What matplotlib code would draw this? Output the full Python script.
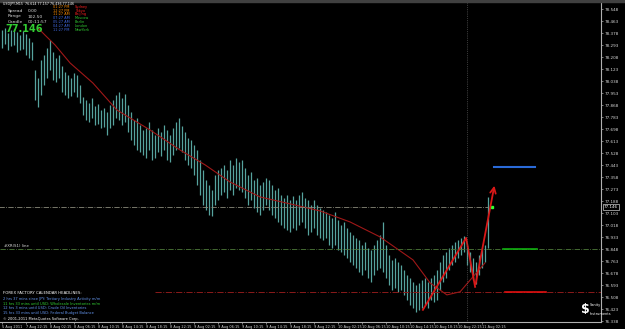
import matplotlib
matplotlib.use('Agg')
import matplotlib.pyplot as plt
import numpy as np

# USDJPY M15 bars (every second bar)
highs = [78.400, 78.414, 78.378, 78.400, 78.407, 78.385, 78.364, 78.392, 78.371, 78.343,
         78.315, 78.116, 78.060, 78.187, 78.223, 78.272, 78.329, 78.244, 78.201, 78.223,
         78.145, 78.102, 78.081, 78.060, 78.095, 78.081, 78.010, 77.925, 77.904, 77.883,
         77.918, 77.862, 77.876, 77.833, 77.847, 77.819, 77.869, 77.904, 77.939, 77.961,
         77.918, 77.946, 77.869, 77.819, 77.762, 77.777, 77.727, 77.692, 77.706, 77.748,
         77.692, 77.656, 77.706, 77.677, 77.727, 77.692, 77.656, 77.706, 77.748, 77.777,
         77.720, 77.677, 77.635, 77.621, 77.585, 77.550, 77.479, 77.408, 77.338, 77.302,
         77.267, 77.373, 77.408, 77.423, 77.444, 77.408, 77.479, 77.444, 77.493, 77.465,
         77.479, 77.423, 77.373, 77.394, 77.338, 77.352, 77.302, 77.323, 77.352, 77.338,
         77.302, 77.267, 77.281, 77.231, 77.210, 77.231, 77.196, 77.224, 77.196, 77.231,
         77.253, 77.210, 77.196, 77.161, 77.196, 77.161, 77.139, 77.125, 77.111, 77.090,
         77.069, 77.111, 77.054, 77.019, 77.040, 76.998, 76.969, 76.948, 76.927, 76.913,
         76.877, 76.899, 76.856, 76.842, 76.877, 76.913, 76.948, 77.040, 76.877, 76.807,
         76.771, 76.785, 76.757, 76.736, 76.700, 76.665, 76.644, 76.615, 76.594, 76.608,
         76.630, 76.644, 76.615, 76.644, 76.665, 76.700, 76.757, 76.807, 76.828, 76.856,
         76.877, 76.899, 76.913, 76.927, 76.941, 76.877, 76.828, 76.785, 76.757, 76.807,
         76.856, 76.877, 77.217]
lows = [78.272, 78.300, 78.258, 78.286, 78.293, 78.244, 78.258, 78.265, 78.223, 78.201,
        78.187, 77.904, 77.854, 77.939, 78.010, 78.060, 78.116, 78.046, 78.031, 78.060,
        77.961, 77.939, 77.918, 77.932, 77.961, 77.925, 77.883, 77.798, 77.762, 77.748,
        77.777, 77.727, 77.734, 77.706, 77.713, 77.656, 77.706, 77.727, 77.777, 77.762,
        77.727, 77.748, 77.677, 77.621, 77.585, 77.550, 77.536, 77.515, 77.493, 77.550,
        77.479, 77.493, 77.536, 77.508, 77.550, 77.479, 77.465, 77.515, 77.550, 77.564,
        77.536, 77.479, 77.444, 77.423, 77.373, 77.302, 77.231, 77.161, 77.125, 77.090,
        77.083, 77.161, 77.196, 77.231, 77.253, 77.210, 77.267, 77.231, 77.281, 77.267,
        77.253, 77.210, 77.161, 77.196, 77.139, 77.111, 77.090, 77.125, 77.161, 77.125,
        77.090, 77.069, 77.040, 77.019, 76.998, 76.984, 76.969, 76.998, 76.984, 77.019,
        77.040, 76.998, 76.948, 76.969, 76.998, 76.948, 76.927, 76.913, 76.927, 76.877,
        76.856, 76.877, 76.842, 76.828, 76.807, 76.785, 76.757, 76.736, 76.715, 76.686,
        76.665, 76.700, 76.644, 76.615, 76.665, 76.700, 76.715, 76.686, 76.644, 76.594,
        76.559, 76.573, 76.545, 76.559, 76.523, 76.488, 76.453, 76.431, 76.403, 76.417,
        76.431, 76.453, 76.431, 76.488, 76.474, 76.488, 76.559, 76.615, 76.644, 76.700,
        76.736, 76.757, 76.785, 76.807, 76.828, 76.736, 76.686, 76.630, 76.601, 76.665,
        76.715, 76.757, 76.856]

# moving average (bar index, price)
ma_x = [12, 14.3, 17.7, 22.7, 30.3, 38.3, 49.3, 59.3, 67.7, 76, 86, 96, 106, 116,
        126, 137, 142.7, 148.3, 152.7, 156.7, 161]
ma_y = [78.414, 78.364, 78.293, 78.166, 78.024, 77.833, 77.692, 77.550, 77.444, 77.323,
        77.217, 77.168, 77.118, 77.040, 76.934, 76.771, 76.608, 76.523, 76.545, 76.644,
        76.750]

# zigzag projection
zz_x = [140.3, 154.7, 157.7, 164.3]
zz_y = [76.417, 76.927, 76.580, 77.316]

last_price = 77.146
pivot_lvl = 76.849
support_lvl = 76.545
target_lvl = 77.430

tick_prices = [78.548 - 0.085 * k for k in range(27)]
time_labels = ['5 Aug 2011', '7 Aug 22:15', '8 Aug 02:15', '8 Aug 06:15', '8 Aug 10:15',
               '8 Aug 14:15', '8 Aug 18:15', '8 Aug 22:15', '9 Aug 02:15', '9 Aug 06:15',
               '9 Aug 10:15', '9 Aug 14:15', '9 Aug 18:15', '9 Aug 22:15', '10 Aug 02:15',
               '10 Aug 06:15', '10 Aug 10:15', '10 Aug 14:15', '10 Aug 18:15', '10 Aug 22:15',
               '11 Aug 02:15']

sessions = ['Sydney', 'Tokyo', 'Beijing', 'Moscow', 'Berlin', 'London', 'NewYork']
session_times = ['01:27 PM', '12:27 PM', '11:27 AM', '07:27 AM', '05:27 AM', '04:27 AM', '11:27 PM']
time_colors = ['#ff8c00', '#ff8c00', '#ff8c00', '#4169e1', '#4169e1', '#4169e1', '#4169e1']
name_colors = ['#ff2020', '#ff2020', '#ff2020', '#32cd32', '#32cd32', '#32cd32', '#32cd32']

headlines = ['2 hrs 37 mins since JPY: Tertiary Industry Activity m/m',
             '11 hrs 33 mins until USD: Wholesale Inventories m/m',
             '12 hrs 3 mins until USD: Crude Oil Inventories',
             '15 hrs 33 mins until USD: Federal Budget Balance']
headline_colors = ['#6495ed', '#32cd32', '#6495ed', '#6495ed']

W, H = 625, 329
fig = plt.figure(figsize=(W / 100, H / 100), dpi=100, facecolor='black')


def px(x, y):
    return x / W, 1 - y / H


ax = fig.add_axes([0, 7 / H, 601 / W, 320 / H])
ax.set_facecolor('black')
ax.set_xlim(-2 / 3, 599 / 3)
ax.set_ylim(76.331, 78.598)

idx = np.arange(len(highs))
ax.vlines(idx, lows, highs, color='#56a39e', lw=0.9)
ax.plot(ma_x, ma_y, color='#a01818', lw=0.8)

ax.plot(zz_x[:3], zz_y[:3], color='#d81818', lw=1.3)
ax.annotate('', xy=(zz_x[3], zz_y[3]), xytext=(zz_x[2], zz_y[2]),
            arrowprops=dict(arrowstyle='->', color='#d81818', lw=1.3))

ax.plot([-1, 162], [last_price, last_price], color='#8a8a7a', lw=0.6, ls='-.')
ax.axhline(pivot_lvl, color='#4e7a3a', lw=0.6, ls='-.')
ax.plot([51, 200], [support_lvl, support_lvl], color='#8b1a1a', lw=0.7, ls='-.')
ax.axvline(155, color='#707070', lw=0.5, ls=':')
ax.plot([164, 177.7], [target_lvl, target_lvl], color='#2a6ad8', lw=1.5)
ax.plot([167, 178.3], [pivot_lvl, pivot_lvl], color='#10b010', lw=1.2)
ax.plot([167.7, 181.3], [support_lvl, support_lvl], color='#e01010', lw=1.2)
ax.plot([163.3], [last_price], 's', color='#30ff30', ms=1.6)

for s in ['top', 'left']:
    ax.spines[s].set_visible(False)
for s in ['right', 'bottom']:
    ax.spines[s].set_color('#b0b0b0')
    ax.spines[s].set_linewidth(0.8)

ax.yaxis.tick_right()
ax.set_yticks(tick_prices)
ax.set_yticklabels(['%.3f' % p for p in tick_prices])
ax.set_xticks([8 * k for k in range(len(time_labels))])
ax.set_xticklabels(time_labels)
ax.tick_params(axis='both', colors='#b0b0b0', length=1.5, width=0.5,
               labelcolor='#d8d8d8', pad=1)
ax.tick_params(axis='y', labelsize=3.0)
ax.tick_params(axis='x', labelsize=2.5)
for lab in ax.get_xticklabels():
    lab.set_horizontalalignment('left')

ax.text(1.005, last_price, '%.3f' % last_price, transform=ax.get_yaxis_transform(),
        fontsize=3.0, color='white', va='center', ha='left',
        bbox=dict(facecolor='black', edgecolor='white', lw=0.4, pad=0.6))

# top bar
fig.patches.append(plt.Rectangle((0, 1 - 2 / H), 1, 2 / H, transform=fig.transFigure,
                                 color='#404040'))

# info block
fig.text(*px(3, 4), 'USDJPY,M15  76.614 77.157 76.436 77.146', fontsize=2.3,
         color='white', va='center')
for i, (k, v) in enumerate([('Spread', '0.00'), ('Range', '102.50'), ('Candle', '00:11:57')]):
    fig.text(*px(8, 11 + 5.5 * i), k, fontsize=3.2, color='#d8d8d8', va='center')
    fig.text(*px(28, 11 + 5.5 * i), v, fontsize=3.2, color='#d8d8d8', va='center')
fig.text(*px(5, 29), '%.3f' % last_price, fontsize=7, fontweight='bold',
         color='#32cd32', va='center')
for i in range(len(sessions)):
    y = 6.8 + 3.8 * i
    fig.text(*px(53, y), session_times[i], fontsize=2.5, color=time_colors[i], va='center')
    fig.text(*px(75, y), sessions[i], fontsize=2.5, color=name_colors[i], va='center')

fig.text(*px(4, 246), '#XR(S1) line', fontsize=2.8, color='#d8d8d8', va='center')

# calendar block
fig.text(*px(3, 293), 'FOREX FACTORY CALENDAR HEADLINES:', fontsize=2.8,
         color='white', va='center')
for i, (t, c) in enumerate(zip(headlines, headline_colors)):
    fig.text(*px(3, 299 + 4.6 * i), t, fontsize=2.6, color=c, va='center')
fig.text(*px(3, 319), '\u00a9 2001-2011 MetaQuotes Software Corp.', fontsize=2.6,
         color='white', va='center')

# logo
fig.text(*px(585, 310), '$', fontsize=9, fontweight='bold', color='white',
         va='center', ha='center')
fig.text(*px(590, 305), 'Sanity', fontsize=2.5, color='white', va='center')
fig.text(*px(590, 314), 'Instruments', fontsize=2.5, color='white', va='center')

fig.savefig('out.png', dpi=100, facecolor='black')
